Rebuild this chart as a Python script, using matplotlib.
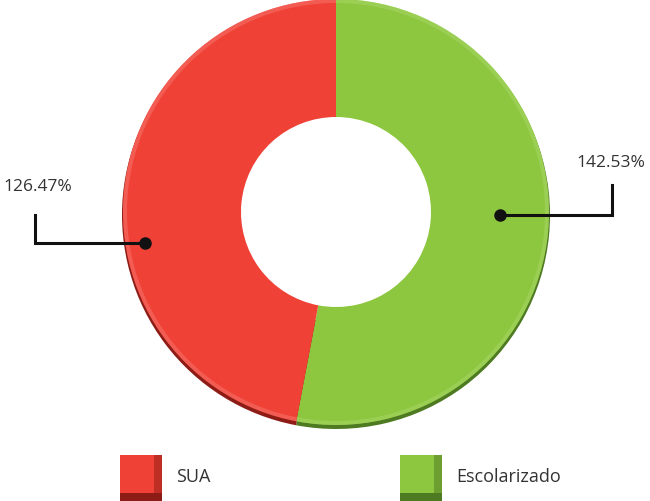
import matplotlib
matplotlib.use('Agg')
import matplotlib.pyplot as plt
from matplotlib.patches import Rectangle, Wedge

# Data
labels = ['Escolarizado', 'SUA']
values = [142.53, 126.47]
colors = ['#8DC63F', '#EF4136']
dark_colors = ['#4E7A22', '#8E1C16']
value_text = ['142.53%', '126.47%']

plt.rcParams['font.family'] = ['Open Sans', 'DejaVu Sans']

fig = plt.figure(figsize=(6.5, 5.01), dpi=100)
ax = fig.add_axes([0, 0, 1, 1])

cx, cy = 336, 289
r_out, r_in = 214, 95

# subtle shadow under the ring (kept away from the hole)
ax.pie(values, startangle=90, counterclock=False, colors=dark_colors,
       center=(cx, cy - 3), radius=r_out,
       wedgeprops=dict(width=r_out - r_in - 12, linewidth=0), frame=True)
wedges, _ = ax.pie(values, startangle=90, counterclock=False, colors=colors,
                   center=(cx, cy), radius=r_out - 1,
                   wedgeprops=dict(width=r_out - r_in - 1, linewidth=0), frame=True)
ax.set_xlim(0, 650)
ax.set_ylim(0, 501)
ax.set_aspect('equal')
ax.axis('off')

# light highlight on the outer rim of each slice
for w, c in zip(wedges, ['#A8D86A', '#F5776F']):
    ax.add_patch(Wedge((cx, cy), r_out - 1, w.theta1, w.theta2, width=4,
                       facecolor=c, alpha=0.5, linewidth=0))

# leader lines: (dot, corner, end), label anchor
leaders = [
    ((500, 286), (612, 286), (612, 316), (645, 338), 'right'),
    ((145, 258), (35, 258), (35, 286), (3, 314), 'left'),
]
for (dot, corner, end, txt, ha), t in zip(leaders, value_text):
    ax.plot([dot[0], corner[0], end[0]], [dot[1], corner[1], end[1]],
            color='#111111', lw=2.2, solid_joinstyle='miter')
    ax.plot(dot[0], dot[1], 'o', color='#111111', ms=8)
    ax.text(txt[0], txt[1], t, ha=ha, va='center',
            fontsize=12.5, color='#333333')

# legend
legend_items = [(120, 'SUA', colors[1], dark_colors[1]),
                (400, 'Escolarizado', colors[0], dark_colors[0])]
for x0, name, c, dc in legend_items:
    ax.add_patch(Rectangle((x0, 0), 42, 46, facecolor=c, linewidth=0))
    ax.add_patch(Rectangle((x0, 0), 42, 8, facecolor=dc, linewidth=0))
    ax.add_patch(Rectangle((x0 + 34, 0), 8, 46, facecolor=dc, alpha=0.5, linewidth=0))
    ax.text(x0 + 56, 24, name, ha='left', va='center', fontsize=13, color='#333333')

fig.savefig('out.png', dpi=100)
